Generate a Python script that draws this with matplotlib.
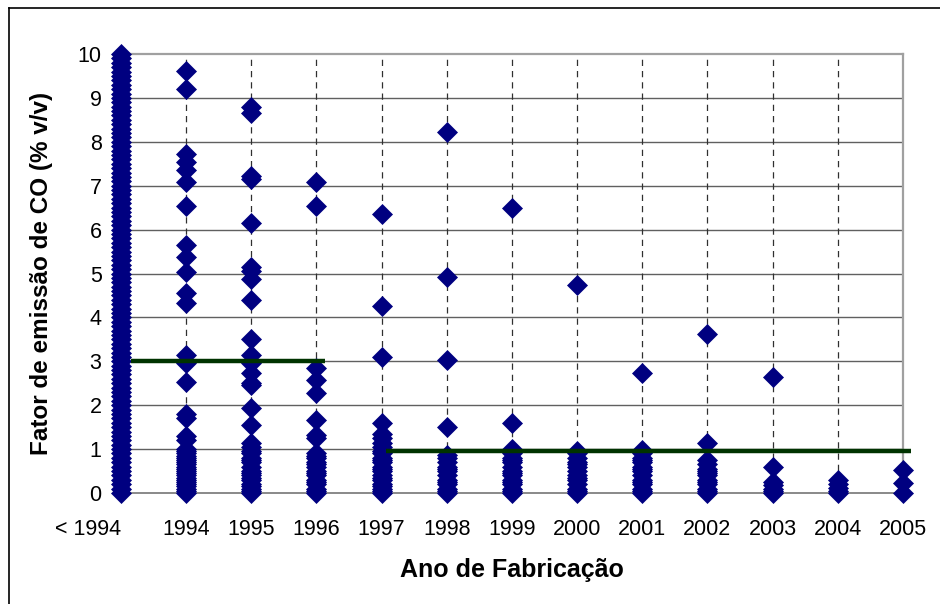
import matplotlib.pyplot as plt
from matplotlib.lines import Line2D

plt.rcParams['font.family'] = ['Liberation Sans', 'DejaVu Sans']

# categories on the x axis
categories = ["< 1994", "1994", "1995", "1996", "1997", "1998", "1999",
              "2000", "2001", "2002", "2003", "2004", "2005"]

# CO emission factor (% v/v) per vehicle
co_lt1994 = [0.0, 0.1, 0.2, 0.3, 0.4, 0.5, 0.6, 0.7, 0.8, 0.9,
             1.0, 1.1, 1.2, 1.3, 1.4, 1.5, 1.6, 1.7, 1.8, 1.9,
             2.0, 2.1, 2.2, 2.3, 2.4, 2.5, 2.6, 2.7, 2.8, 2.9,
             3.0, 3.1, 3.2, 3.3, 3.4, 3.5, 3.6, 3.7, 3.8, 3.9,
             4.0, 4.1, 4.2, 4.3, 4.4, 4.5, 4.6, 4.7, 4.8, 4.9,
             5.0, 5.1, 5.2, 5.3, 5.4, 5.5, 5.6, 5.7, 5.8, 5.9,
             6.0, 6.1, 6.2, 6.3, 6.4, 6.5, 6.6, 6.7, 6.8, 6.9,
             7.0, 7.1, 7.2, 7.3, 7.4, 7.5, 7.6, 7.7, 7.8, 7.9,
             8.0, 8.1, 8.2, 8.3, 8.4, 8.5, 8.6, 8.7, 8.8, 8.9,
             9.0, 9.1, 9.2, 9.3, 9.4, 9.5, 9.6, 9.7, 9.8, 9.9, 10.0]
co_1994 = [9.62, 9.2, 7.72, 7.55, 7.35, 7.08, 6.54, 5.65, 5.38, 5.03, 4.55,
           4.33, 3.15, 2.95, 2.52, 1.8, 1.7, 1.3, 1.2, 1.0, 0.95, 0.9, 0.85,
           0.8, 0.75, 0.7, 0.65, 0.6, 0.55, 0.5, 0.45, 0.4, 0.35, 0.3, 0.25,
           0.2, 0.15, 0.1, 0.05, 0.0]
co_1995 = [8.8, 8.65, 7.22, 7.15, 6.15, 5.15, 5.05, 4.88, 4.4, 3.5, 3.14,
           2.96, 2.73, 2.5, 2.45, 1.94, 1.56, 1.14, 1.05, 0.95, 0.9, 0.8,
           0.75, 0.7, 0.6, 0.5, 0.45, 0.4, 0.35, 0.3, 0.2, 0.15, 0.1, 0.05, 0.0]
co_1996 = [7.08, 6.54, 2.85, 2.58, 2.27, 1.66, 1.32, 1.25, 0.9, 0.85, 0.8,
           0.7, 0.65, 0.6, 0.5, 0.45, 0.4, 0.3, 0.25, 0.2, 0.1, 0.05, 0.0]
co_1997 = [6.35, 4.26, 3.1, 1.6, 1.35, 1.25, 1.15, 1.05, 0.95, 0.9, 0.8,
           0.75, 0.7, 0.6, 0.55, 0.5, 0.4, 0.35, 0.3, 0.2, 0.15, 0.1, 0.05, 0.0]
co_1998 = [8.22, 4.92, 3.03, 1.5, 0.87, 0.8, 0.7, 0.6, 0.55, 0.5, 0.4,
           0.3, 0.25, 0.2, 0.1, 0.05, 0.0]
co_1999 = [6.5, 1.59, 1.0, 0.95, 0.9, 0.8, 0.75, 0.7, 0.6, 0.5, 0.45,
           0.4, 0.3, 0.25, 0.2, 0.1, 0.05, 0.0]
co_2000 = [4.74, 0.95, 0.9, 0.8, 0.7, 0.65, 0.6, 0.5, 0.4, 0.35, 0.3,
           0.2, 0.1, 0.05, 0.0]
co_2001 = [2.73, 0.98, 0.9, 0.8, 0.75, 0.7, 0.6, 0.55, 0.5, 0.4, 0.3,
           0.25, 0.2, 0.1, 0.05, 0.0]
co_2002 = [3.62, 1.13, 0.75, 0.65, 0.55, 0.5, 0.45, 0.4, 0.3, 0.25, 0.2,
           0.1, 0.05, 0.0]
co_2003 = [2.65, 0.6, 0.25, 0.18, 0.1, 0.05, 0.0]
co_2004 = [0.3, 0.2, 0.12, 0.05, 0.0]
co_2005 = [0.53, 0.23, 0.0]

all_values = [co_lt1994, co_1994, co_1995, co_1996, co_1997, co_1998, co_1999,
              co_2000, co_2001, co_2002, co_2003, co_2004, co_2005]

# emission limits (horizontal green lines)
limit_old = 3.0
limit_new = 0.95

fig = plt.figure(figsize=(9.4, 6.04), dpi=100)
ax = fig.add_axes([121 / 940, 1 - 493 / 604, 782 / 940, 439 / 604])

for i, vals in enumerate(all_values):
    ax.plot([i] * len(vals), vals, linestyle='none', marker='D',
            markersize=10.2, color='#000080', markeredgecolor='#000080',
            markeredgewidth=0.5, zorder=3, clip_on=False)

ax.plot([0.15, 3.13], [limit_old, limit_old], color='#003300', lw=3.2,
        zorder=4, solid_capstyle='butt')
ax.plot([4.07, 12.13], [limit_new, limit_new], color='#003300', lw=3.2,
        zorder=4, solid_capstyle='butt', clip_on=False)

ax.set_xlim(0, 12)
ax.set_ylim(0, 10)
ax.set_yticks(range(0, 11))
ax.set_xticks(range(len(categories)))
ax.set_xticklabels(categories)
ax.get_xticklabels()[0].set_horizontalalignment('right')

# gridlines
for y in range(1, 10):
    ax.axhline(y, color='#606060', lw=1, zorder=1)
for x in range(1, 12):
    ax.axvline(x, color='#303030', lw=0.9, dashes=(5, 4), zorder=1)

ax.tick_params(axis='both', length=0, labelsize=15.5)
ax.tick_params(axis='y', pad=14)
ax.tick_params(axis='x', pad=19)

for side in ['top', 'right']:
    ax.spines[side].set_color('#a0a0a0')
    ax.spines[side].set_linewidth(1.6)
ax.spines['bottom'].set_color('#808080')
ax.spines['bottom'].set_linewidth(1.3)
ax.spines['left'].set_visible(False)

ax.set_xlabel("Ano de Fabricação", fontsize=18, fontweight='bold', labelpad=13)
ax.set_ylabel("Fator de emissão de CO (% v/v)", fontsize=17.5, fontweight='bold',
              labelpad=18)

# chart border (left and top visible)
fig.add_artist(Line2D([9 / 940, 9 / 940], [0, 1 - 8 / 604], color='black', lw=1.2))
fig.add_artist(Line2D([9 / 940, 1], [1 - 8 / 604, 1 - 8 / 604], color='black', lw=1.2))

fig.savefig("out.png", dpi=100)
